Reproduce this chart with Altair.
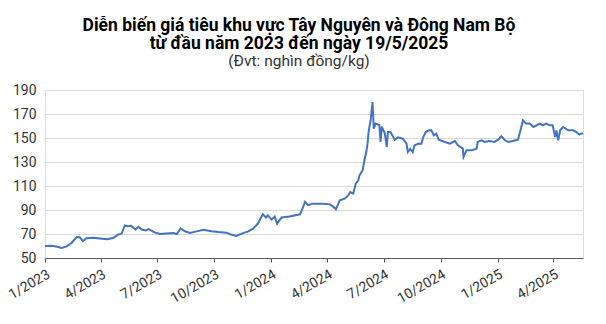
import altair as alt
import pandas as pd

dates = [
    "2023-01-01", "2023-01-12", "2023-01-19", "2023-01-28", "2023-02-04", "2023-02-13",
    "2023-02-17", "2023-02-21", "2023-02-26", "2023-03-03", "2023-03-09", "2023-03-19",
    "2023-03-31", "2023-04-11", "2023-04-21", "2023-04-29", "2023-05-05", "2023-05-10",
    "2023-05-15", "2023-05-20", "2023-05-24", "2023-05-27", "2023-06-01", "2023-06-06",
    "2023-06-13", "2023-06-17", "2023-06-28", "2023-07-06", "2023-07-16", "2023-07-27",
    "2023-08-02", "2023-08-08", "2023-08-15", "2023-08-23", "2023-09-03", "2023-09-14",
    "2023-09-27", "2023-10-08", "2023-10-21", "2023-10-27", "2023-11-06", "2023-11-15",
    "2023-11-25", "2023-12-03", "2023-12-11", "2023-12-16", "2023-12-19", "2023-12-24",
    "2023-12-27", "2024-01-02", "2024-01-07", "2024-01-11", "2024-01-18", "2024-01-31",
    "2024-02-17", "2024-02-22", "2024-02-25", "2024-03-01", "2024-03-09", "2024-03-25",
    "2024-04-05", "2024-04-10", "2024-04-15", "2024-04-21", "2024-04-29", "2024-05-05",
    "2024-05-08", "2024-05-13", "2024-05-17", "2024-05-21", "2024-05-23", "2024-05-28",
    "2024-06-01", "2024-06-03", "2024-06-05", "2024-06-07", "2024-06-10", "2024-06-13",
    "2024-06-15", "2024-06-18", "2024-06-24", "2024-06-26", "2024-06-28", "2024-07-03",
    "2024-07-06", "2024-07-08", "2024-07-12", "2024-07-19", "2024-07-24", "2024-08-01",
    "2024-08-07", "2024-08-09", "2024-08-13", "2024-08-17", "2024-08-20", "2024-08-26",
    "2024-08-31", "2024-09-03", "2024-09-07", "2024-09-12", "2024-09-16", "2024-09-20",
    "2024-09-24", "2024-09-28", "2024-10-08", "2024-10-16", "2024-10-24", "2024-10-29",
    "2024-11-06", "2024-11-07", "2024-11-12", "2024-11-20", "2024-11-28", "2024-11-30",
    "2024-12-06", "2024-12-11", "2024-12-19", "2024-12-27", "2025-01-02", "2025-01-07",
    "2025-01-13", "2025-01-18", "2025-01-26", "2025-02-03", "2025-02-07", "2025-02-11",
    "2025-02-16", "2025-02-22", "2025-02-28", "2025-03-05", "2025-03-10", "2025-03-15",
    "2025-03-21", "2025-03-26", "2025-03-31", "2025-04-04", "2025-04-06", "2025-04-09",
    "2025-04-12", "2025-04-17", "2025-04-25", "2025-05-03", "2025-05-08", "2025-05-13",
    "2025-05-16", "2025-05-19",
]

prices = [
    60.0, 60.2, 59.5, 58.3, 59.5, 62.5,
    65.0, 67.5, 67.3, 64.0, 66.4, 66.8,
    66.2, 65.6, 66.7, 69.5, 70.4, 77.2,
    76.5, 76.8, 75.3, 73.7, 76.0, 73.7,
    73.0, 74.0, 71.1, 70.0, 70.5, 70.8,
    70.0, 74.7, 72.3, 70.8, 72.2, 73.6,
    72.3, 71.6, 71.1, 69.8, 68.4, 70.3,
    72.2, 74.5, 78.7, 83.7, 86.4, 83.7,
    85.6, 82.0, 84.5, 78.7, 83.7, 84.5,
    86.4, 92.5, 96.7, 94.0, 95.3, 95.3,
    94.7, 93.0, 90.6, 98.0, 99.4, 102.3,
    105.0, 103.7, 112.0, 114.7, 118.9, 123.0,
    134.2, 138.3, 145.3, 156.4, 164.8, 180.0,
    157.8, 162.0, 160.8, 146.7, 159.5, 153.7,
    142.5, 155.0, 155.0, 148.5, 150.5, 149.4,
    145.3, 138.3, 141.0, 138.3, 143.9, 145.3,
    145.3, 150.8, 155.0, 156.4, 156.4, 152.2,
    153.6, 148.6, 146.7, 145.3, 147.5, 143.9,
    141.1, 134.2, 139.7, 139.7, 141.1, 146.7,
    148.1, 146.7, 147.5, 146.7, 148.6, 151.4,
    148.1, 146.7, 147.5, 148.6, 156.4, 164.8,
    162.0, 162.0, 159.2, 160.6, 162.0, 160.6,
    162.0, 160.6, 160.6, 150.8, 156.4, 148.1,
    156.4, 159.2, 156.4, 156.4, 155.0, 152.8,
    153.6, 154.0,
]

title_lines = ["Diễn biến giá tiêu khu vực Tây Nguyên và Đông Nam Bộ",
               "từ đầu năm 2023 đến ngày 19/5/2025"]
subtitle_text = "(Đvt: nghìn đồng/kg)"
y_ticks = [50, 70, 90, 110, 130, 150, 170, 190]
x_tick_months = [(2023, 1), (2023, 4), (2023, 7), (2023, 10),
                 (2024, 1), (2024, 4), (2024, 7), (2024, 10),
                 (2025, 1), (2025, 4)]

df = pd.DataFrame({"date": dates, "price": prices})

x_values = [alt.DateTime(year=y, month=m, date=1, utc=True) for y, m in x_tick_months]

chart = alt.Chart(df).mark_line(color="#4472C4", strokeWidth=2).encode(
    x=alt.X(
        "date:T",
        scale=alt.Scale(
            type="utc",
            domain=[alt.DateTime(year=2023, month=1, date=1, utc=True),
                    alt.DateTime(year=2025, month=5, date=19, utc=True)],
        ),
        axis=alt.Axis(
            title=None, values=x_values, format="%-m/%Y", labelAngle=-30,
            grid=False, domainColor="#595959", tickColor="#595959", tickSize=4,
            labelFont="Roboto", labelFontSize=14, labelColor="#333333",
            labelPadding=5,
        ),
    ),
    y=alt.Y(
        "price:Q",
        scale=alt.Scale(domain=[50, 190], nice=False, zero=False),
        axis=alt.Axis(
            title=None, values=y_ticks, domain=False, ticks=False, tickSize=0,
            labelPadding=9, grid=True, gridColor="#d9d9d9", gridWidth=1,
            labelFont="Roboto", labelFontSize=14, labelColor="#333333",
        ),
    ),
).properties(
    width=538,
    height=168,
    title=alt.TitleParams(
        text=title_lines,
        subtitle=subtitle_text,
        anchor="middle",
        frame="group",
        dx=-15,
        font="Roboto",
        fontSize=17.5,
        fontWeight="bold",
        color="#000000",
        lineHeight=18.5,
        subtitleFont="Roboto",
        subtitleFontSize=15.5,
        subtitleColor="#333333",
        subtitlePadding=1,
        offset=14,
    ),
    autosize=alt.AutoSizeParams(type="none"),
    padding={"left": 45, "top": 90, "right": 23, "bottom": 66},
).configure_view(stroke=None).configure(background="white")

chart.save("out.html", embed_options={"renderer": "svg", "actions": False})
